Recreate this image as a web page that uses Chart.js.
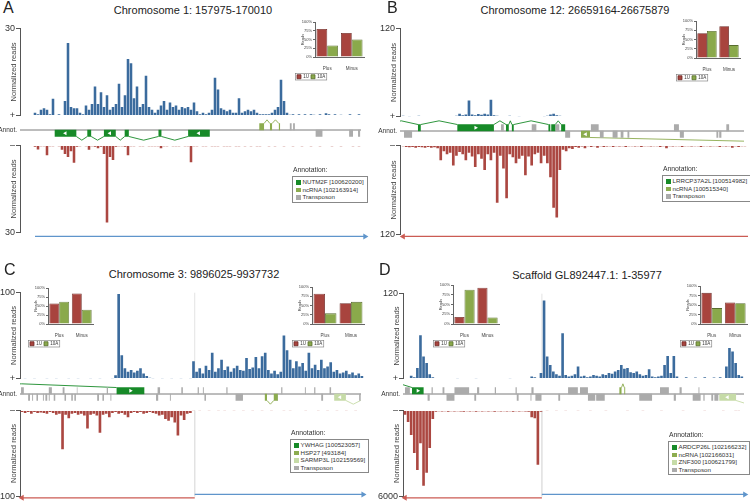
<!DOCTYPE html>
<html>
<head>
<meta charset="utf-8">
<script src="https://cdn.jsdelivr.net/npm/chart.js@4.4.1/dist/chart.umd.min.js"></script>
<style>
  body { margin: 0; background: #fff; }
  #fig { position: relative; width: 750px; height: 503px; overflow: hidden; font-family: 'Liberation Sans', Arial, sans-serif; color: #222; }
  #fig canvas { position: absolute; }
  .txt { position: absolute; white-space: nowrap; line-height: 1; }
  .leg { position: absolute; border: 1px solid #888; padding: 1px 3px; font-size: 6.2px; line-height: 7.6px; background: #fff; white-space: nowrap; color: #333; }
  .sq { display: inline-block; width: 4.5px; height: 4.5px; margin-right: 2px; vertical-align: -0.5px; }
</style>
</head>
<body>
<div id="fig"></div>
<script>
// normalized reads, one value per bin (110 bins across each window)
let plusA = [1, 0.5, 2, 2.5, 2, 0.5, 5.8, 0, 0.5, 0,
    5, 25, 3, 2.5, 2.5, 1, 0.5, 3.5, 2, 4,
    10, 4, 8, 3, 7, 2, 3, 4, 11, 3,
    7, 19.5, 18, 6, 10, 3, 4, 13.7, 3, 2,
    1, 2, 3.5, 5, 2, 4.5, 3, 3.5, 2, 3,
    2.5, 3, 2, 4.5, 1.5, 0.5, 1, 0.5, 1, 2,
    13, 9, 2.5, 2, 1.5, 2, 1, 1, 6, 1,
    1.5, 2, 1.5, 2, 1, 0.5, 0.5, 0.5, 0.5, 1,
    2, 3, 12.3, 5, 1, 0.3, 0.5, 0, 0.5, 0,
    0.5, 0, 0.5, 0.3, 0, 0.5, 0, 0.8, 0.5, 0,
    0.5, 0, 0.3, 0, 0, 0.5, 0, 0, 0.5, 0];
let minusA = [0.5, 1.4, 0.3, 0.3, 3.4, 0.3, 0.3, 0, 0.3, 1.5,
    3, 4, 2, 6, 0.5, 0.3, 0, 0.3, 1.5, 0.3,
    0.5, 1, 0.5, 3, 26.5, 4, 5, 0.5, 0.3, 0.3,
    0.5, 3.4, 0.3, 0.3, 0, 0.3, 0.3, 0, 0.3, 0.3,
    0.3, 0.3, 1, 0.3, 0.3, 0, 0.3, 0.3, 0.3, 0,
    0.3, 0.3, 5.8, 0.3, 0.3, 0, 0.3, 0.3, 0, 0.3,
    0.3, 0.3, 0, 0.3, 0.3, 0.3, 0, 0.3, 0.3, 0,
    0.3, 0, 0.3, 0, 0.3, 0.3, 0, 0, 0.3, 0,
    0.3, 0, 0, 0.3, 0, 0, 0.3, 0, 0, 0.3,
    0, 0, 0.3, 0, 0, 0.3, 0, 0, 0, 0.3,
    0, 0, 0.3, 0, 0, 0, 0.3, 0, 0.3, 0];

let plusB = [1, 0, 0.5, 0, 0, 1, 0, 0, 0, 0,
    0, 0, 0, 0, 0, 0, 0, 1, 4, 2,
    3, 22, 3, 2, 3.5, 2.5, 4, 3, 23, 2,
    1, 0, 0, 0, 1, 0, 0, 0.5, 0, 0,
    0, 0, 0, 0, 0, 0.5, 1, 3, 4, 2,
    1, 0, 0.8, 0, 0, 0.8, 0, 0, 0, 0.8,
    0, 0, 0.8, 0, 0, 0.8, 0, 0.8, 0, 0,
    0.8, 0, 0, 0, 0.8, 0, 0, 0, 0.8, 0,
    0, 0.8, 0, 0, 0, 0.8, 0, 0, 0.8, 0,
    0, 0.8, 0, 0, 0.8, 0, 0, 0.8, 0, 0.8,
    0, 0, 0, 0, 0, 0, 0, 0, 0, 0];
let minusB = [1, 2, 2.5, 2, 3, 2, 2.5, 3, 2, 3,
    2.5, 4, 20, 8, 12, 10, 27, 14, 9, 12,
    20, 10, 15, 29, 12, 18, 33, 12, 20, 10,
    77, 14, 31, 71, 12, 16, 24, 18, 14, 40,
    15, 27, 12, 10, 24, 14, 24, 43, 84, 97,
    33, 6, 8, 4, 5, 2, 3, 1.5, 4, 1,
    2, 1, 3, 1, 2, 1.5, 1, 2, 1, 1.5,
    1, 2, 1, 1, 1.5, 1, 2, 1, 1, 1.5,
    1, 1, 2, 1, 4, 1, 1.5, 1, 1, 2,
    1, 1, 1.5, 1, 1, 2, 1, 1, 1.5, 1,
    1, 2, 1, 1.5, 1, 3, 1, 2, 1, 1];

let plusC = [0, 0.5, 0, 0, 0.5, 0, 0, 0, 0.5, 0,
    0, 0.5, 0, 0, 0, 0.5, 0, 0, 0.5, 0,
    0, 0, 0.5, 0, 0, 0.5, 0, 0, 0, 0.5,
    4, 98, 27, 12, 8, 10, 7, 9, 12, 6,
    3, 1, 0.5, 0, 0, 0.5, 0, 0, 0.5, 0,
    0, 0.5, 0, 0, 0.5, 20, 8, 12, 6, 15,
    10, 30, 8, 12, 22, 10, 14, 8, 12, 15,
    10, 9, 24, 11, 13, 25, 12, 26, 30, 10,
    6, 9, 5, 8, 50, 33, 22, 12, 20, 14,
    18, 9, 30, 12, 16, 10, 22, 12, 14, 19,
    8, 10, 6, 7, 9, 5, 7, 4, 6, 3];
let minusC = [2, 3, 2, 4, 2, 3, 2.5, 3, 4, 2,
    3, 5, 4, 45, 5, 9, 4, 3, 5, 4,
    6, 21, 5, 4, 6, 26, 5, 4, 8, 3,
    2, 4, 3, 5, 8, 3, 2, 3, 2, 4,
    3, 2, 3, 4, 6, 5, 10, 12, 8, 14,
    29, 6, 11, 4, 3, 0.5, 0, 0.5, 0, 0,
    0.5, 0, 0, 0.5, 0, 0.5, 0, 0, 0.5, 0,
    0, 0.5, 0, 0, 0.5, 0, 0, 0.5, 0, 0,
    0.5, 0, 0, 0, 0.5, 0, 0.5, 0, 0, 0,
    0, 0.5, 0, 0, 0, 0.5, 0, 0, 0.5, 0,
    0, 0.5, 0, 0, 0.5, 0, 0, 0.5, 0, 0];

let plusD = [0, 1, 4, 2, 15, 61, 31, 22, 6, 2,
    1, 0, 0, 0, 0, 0, 0, 0.5, 0, 0,
    0, 0, 0, 0.5, 0, 0, 0, 0, 0, 0,
    0, 0, 0, 0, 0.5, 0, 0, 0, 0, 0,
    1, 3, 2, 0, 8, 110, 31, 19, 10, 6,
    4, 64, 5, 3, 4, 6, 17, 3, 4, 2,
    3, 5, 4, 3, 6, 5, 8, 7, 10, 12,
    19, 14, 15, 9, 8, 10, 6, 4, 5, 13,
    3, 2, 3, 4, 19, 32, 8, 32, 3, 1,
    1, 2, 1, 1, 1.5, 1, 1, 2, 1, 1,
    1.5, 1, 2, 1, 17, 43, 38, 22, 5, 3];
let minusD = [300, 800, 1720, 2970, 4140, 2280, 5240, 4340, 2620, 600,
    100, 60, 80, 60, 100, 60, 80, 60, 80, 100,
    60, 80, 60, 100, 60, 80, 60, 80, 60, 100,
    60, 80, 60, 80, 60, 100, 60, 80, 60, 80,
    100, 480, 550, 3790, 100, 0, 30, 0, 0, 30,
    0, 0, 30, 0, 0, 0, 30, 0, 0, 0,
    30, 0, 0, 0, 0, 30, 0, 0, 0, 0,
    0, 0, 30, 0, 0, 0, 0, 30, 0, 0,
    0, 0, 0, 30, 0, 0, 0, 0, 0, 0,
    30, 0, 0, 0, 0, 0, 0, 30, 0, 0,
    0, 0, 0, 30, 0, 0, 0, 30, 30, 0];

// strand boundary (bin) in panels C and D, and the orientation arrows [from, to, direction]
let splitC = 55.4;
let splitD = 44.3;
let strandA = [[0, 110, 1]];
let strandB = [[0, 110, -1]];
let strandC = [[0, splitC, -1], [splitC, 109.4, 1]];
let strandD = [[0, splitD, -1], [splitD, 110, 1]];

// annotation features, [start, end] in bins
let geneA = [[6.7, 14], [17.7, 19], [23.3, 27.3], [30.3, 31.7], [41.7, 42.7], [51.7, 59]];
let geneIntronA = [[14, 17.7], [19, 23.3], [27.3, 30.3], [31.7, 41.7], [42.7, 51.7]];
let geneArrowA = [10.3, 25.3, 55.3];
let ncA = [[75.7, 77.3], [79.3, 80], [82.3, 82.7]];
let ncIntronA = [[77.3, 79.3], [80, 82.3]];
let teUpA = [[86, 86.6], [87.1, 87.7]];
let teDownA = [[94.7, 97], [106, 107.3], [109, 109.7]];

let geneB = [[4.8, 5.7], [17.5, 29.3], [33.2, 34.1], [35.1, 35.7], [46.9, 47.5], [47.8, 49.1], [51, 52.3]];
let geneIntronB = [[-6, 4.8], [5.7, 17.5], [29.3, 33.2], [34.1, 35.1], [35.7, 46.9], [49.1, 51]];
let geneArrowB = [23.4];
let ncB = [[57.4, 60.3]];
let ncIntronB = [[60.3, 160]];
let ncArrowB = [58.9];
let teUpB = [[31.6, 32.5], [41.5, 43], [49.1, 50.4], [60.6, 63.1], [87.4, 89], [104.3, 105.2]];
let teDownB = [[0.3, 2.9], [52.3, 53.9], [63.5, 64.7], [67.6, 69.2], [70.2, 71.1], [72.4, 73], [89.3, 90.6], [101.1, 101.7], [102, 102.7]];

let geneC = [[30.7, 39.7]];
let geneIntronC = [[-31, 30.7]];
let geneArrowC = [35.2];
let hspC = [[78.8, 79.5], [81.7, 83]];
let hspIntronC = [[79.5, 81.7]];
let sarC = [[101.3, 105.1]];
let sarIntronC = [[105.1, 109.9]];
let sarArrowC = [103.2];
let teUpC = [[-0.3, 0.6], [8.7, 9.7], [13.2, 13.8], [17.8, 18], [27.5, 27.9], [44, 44.8], [51.7, 52.2], [57, 57.4], [58.7, 59], [66.3, 66.7], [84.1, 84.5], [91.8, 92.1], [94.8, 95.2], [99.8, 100.3]];
let teDownC = [[2, 2.6], [3.3, 3.6], [4.7, 5.2], [6.8, 7.1], [7.6, 8.2], [8.7, 9], [10.3, 10.8], [13.8, 14.3], [16, 16.5], [17, 17.5], [24.4, 25], [26.1, 26.6], [28.7, 29], [43.5, 44.2], [48, 48.3], [59.2, 59.7], [69.3, 71.7], [82.7, 83], [97.1, 97.7], [109.4, 109.9]];

let geneD = [[2.3, 6.1]];
let geneIntronD = [[-5.5, 2.3]];
let geneArrowD = [4.2];
let ncD = [[70.2, 70.9], [71.8, 72.1]];
let ncIntronD = [[70.9, 71.8]];
let znfD = [[102.9, 108.4]];
let znfIntronD = [[108.4, 116]];
let znfArrowD = [105.6];
let teUpD = [[0, 1.6], [8.7, 9.1], [12.3, 12.9], [16.2, 21], [23.6, 24.3], [29.4, 29.8], [36.2, 36.6], [41.4, 42.1], [53.4, 56.6], [57.3, 59.9], [83.5, 86.4], [89.9, 90.6], [96.1, 96.4]];
let teDownD = [[7.4, 8.1], [13.6, 16.2], [22.7, 23.3], [29.8, 30.1], [36.6, 37.2], [41.1, 41.4], [42.7, 44.7], [50.2, 50.8], [59.9, 62.3], [62.6, 65.4], [76.7, 80.9], [88, 88.7], [94.2, 96.8], [97.7, 98.1], [100.3, 100.9], [101.3, 102.6]];

// inset bar charts: share of reads, [Plus, Minus]
let insetLabels = ['Plus', 'Minus'];
let insetA1U = [80, 69], insetA10A = [33, 50];
let insetB1U = [67, 86], insetB10A = [73, 35];
let insetCL1U = [57, 85], insetCL10A = [62, 40];
let insetCR1U = [82, 56], insetCR10A = [29, 60];
let insetDL1U = [18, 93], insetDL10A = [88, 17];
let insetDR1U = [82, 57], insetDR10A = [42, 55];

let legendA = ['NUTM2F [100620200]', 'ncRNA [102163914]', 'Transposon'];
let legendB = ['LRRCP37A2L [100514982]', 'ncRNA [100515340]', 'Transposon'];
let legendC = ['YWHAG [100523057]', 'HSP27 [493184]', 'SARMP3L [102159569]', 'Transposon'];
let legendD = ['ARDCP26L [102166232]', 'ncRNA [102166031]', 'ZNF300 [100621799]', 'Transposon'];

const BLUE = '#3b6b9d';
const RED = '#ab4741';
const ABLUE = '#5f95cb';
const ARED = '#cb5b53';
const GENE = '#178a28';
const NCRNA = '#8cac4f';
const LIGHT = '#c6dba7';
const TE = '#ababab';
const AXW = 28;

Chart.defaults.font.family = "'Liberation Sans', Arial, sans-serif";
Chart.defaults.color = '#333';

const fig = document.getElementById('fig');

function addCanvas(left, top, w, h) {
    let c = document.createElement('canvas');
    c.width = w;
    c.height = h;
    c.style.left = left + 'px';
    c.style.top = top + 'px';
    c.style.width = w + 'px';
    c.style.height = h + 'px';
    fig.appendChild(c);
    return c;
}

function addText(text, left, top, css) {
    let d = document.createElement('div');
    d.className = 'txt';
    d.textContent = text;
    d.style.cssText = 'left:' + left + 'px;top:' + top + 'px;' + (css || '');
    fig.appendChild(d);
    return d;
}

// coverage track (plus strand above, minus strand below, reversed)
function trackChart(p, values, max, range, strand) {
    const pad = 6;
    let c = addCanvas(p.axisX - AXW, range[0] - pad, p.right - p.axisX + AXW, range[1] - range[0] + 2 * pad);
    let datasets = [{
        type: 'bar',
        data: values.map((v, i) => ({x: i, y: v})),
        backgroundColor: strand > 0 ? BLUE : RED,
        barPercentage: 0.85,
        categoryPercentage: 1,
        order: 1
    }];
    if (p.split !== undefined) {
        datasets.push({
            type: 'line',
            data: [{x: p.split, y: 0}, {x: p.split, y: max}],
            borderColor: '#e3e3e3', borderWidth: 1, pointRadius: 0, order: 2
        });
    }
    new Chart(c, {
        type: 'bar',
        data: {datasets: datasets},
        options: {
            responsive: false, animation: false, devicePixelRatio: 1,
            layout: {padding: {top: pad, bottom: pad, left: 0, right: 0}},
            plugins: {legend: {display: false}, tooltip: {enabled: false}},
            scales: {
                x: {type: 'linear', display: false, offset: false, min: p.xMin, max: p.xMax},
                y: {
                    min: 0, max: max, reverse: strand < 0,
                    afterFit: s => { s.width = AXW; },
                    afterBuildTicks: s => { s.ticks = [{value: 0}, {value: max}]; },
                    ticks: {
                        autoSkip: false, padding: 1, font: {size: 9}, color: '#333',
                        callback: v => v === 0 ? (strand > 0 ? '+' : '–') : v
                    },
                    grid: {drawOnChartArea: false, tickLength: 4, color: '#555'},
                    border: {color: '#555'},
                    title: {display: true, text: 'Normalized reads', font: {size: 7.5}, color: '#444', padding: {top: 17, bottom: 0}}
                }
            }
        }
    });
}

// gene / ncRNA / transposon boxes around the annotation line
function annotChart(p, features) {
    const pad = 6, half = 12;
    let c = addCanvas(p.axisX - AXW, p.annot - half - pad, p.right - p.axisX + AXW, 2 * half + 2 * pad);
    let datasets = [];
    features.forEach(f => {
        let pts = [];
        f.boxes.forEach(b => {
            pts.push({x: b[0], y: f.lane * 3.5}, {x: b[1], y: f.lane * 3.5}, {x: b[1], y: null});
        });
        datasets.push({data: pts, showLine: true, borderColor: f.color, borderWidth: 7, borderCapStyle: 'butt', pointRadius: 0, order: 1});
        if (f.introns) {
            let ipts = [];
            f.introns.forEach(r => {
                ipts.push({x: r[0], y: f.lane * 7}, {x: (r[0] + r[1]) / 2, y: f.lane * 11}, {x: r[1], y: f.lane * 7}, {x: r[1], y: null});
            });
            datasets.push({data: ipts, showLine: true, borderColor: f.color, borderWidth: 0.9, pointRadius: 0, order: 2});
        }
        if (f.arrows) {
            datasets.push({
                data: f.arrows.map(x => ({x: x, y: f.lane * 3.5})), showLine: false,
                pointStyle: 'triangle', pointRadius: 2.3, pointRotation: f.dir * 90,
                pointBackgroundColor: '#fff', pointBorderWidth: 0, order: 0
            });
        }
    });
    datasets.push({data: [{x: p.xMin, y: 0}, {x: p.xMax, y: 0}], showLine: true, borderColor: '#7a7a7a', borderWidth: 1, pointRadius: 0, order: 3});
    new Chart(c, {
        type: 'scatter',
        data: {datasets: datasets},
        options: {
            responsive: false, animation: false, devicePixelRatio: 1,
            layout: {padding: {top: pad, bottom: pad, left: 0, right: 0}},
            plugins: {legend: {display: false}, tooltip: {enabled: false}},
            scales: {
                x: {type: 'linear', display: false, min: p.xMin, max: p.xMax},
                y: {
                    min: -half, max: half,
                    afterFit: s => { s.width = AXW; },
                    afterBuildTicks: s => { s.ticks = [{value: 0}]; },
                    ticks: {callback: () => 'Annot.', font: {size: 6.5}, color: '#333', padding: 3},
                    grid: {display: false, drawTicks: false},
                    border: {display: false}
                }
            }
        }
    });
}

// orientation arrows under the minus track
function arrowChart(p, regions) {
    const pad = 6;
    let c = addCanvas(p.axisX - pad, p.arrowTop, p.right - p.axisX + 2 * pad, 18);
    let datasets = regions.map(r => {
        const dir = r[2];
        const col = dir > 0 ? ABLUE : ARED;
        const y = p.arrowLane[dir];
        return {
            data: [{x: r[0], y: y}, {x: r[1], y: y}], showLine: true,
            borderColor: col, borderWidth: 1.3,
            pointStyle: 'triangle', pointRadius: dir > 0 ? [0, 3.4] : [3.4, 0],
            pointRotation: dir > 0 ? 90 : -90,
            pointBackgroundColor: col, pointBorderWidth: 0, clip: false
        };
    });
    new Chart(c, {
        type: 'scatter',
        data: {datasets: datasets},
        options: {
            responsive: false, animation: false, devicePixelRatio: 1,
            layout: {padding: {top: 0, bottom: 0, left: pad, right: pad}},
            plugins: {legend: {display: false}, tooltip: {enabled: false}},
            scales: {
                x: {type: 'linear', display: false, min: p.xMin, max: p.xMax},
                y: {display: false, min: 0, max: 18, reverse: true}
            }
        }
    });
}

const legendBox = {
    id: 'legendBox',
    afterDraw(chart) {
        let boxes = chart.legend && chart.legend.legendHitBoxes;
        if (!boxes || !boxes.length) return;
        let first = boxes[0], last = boxes[boxes.length - 1];
        let ctx = chart.ctx;
        ctx.save();
        ctx.strokeStyle = '#777';
        ctx.lineWidth = 0.6;
        ctx.strokeRect(first.left - 1.5, first.top - 1, last.left + last.width - first.left + 3, first.height + 2);
        ctx.restore();
    }
};

function insetChart(axisX, right, top, bottom, u, a) {
    let c = addCanvas(axisX - 20, top - 4, right - axisX + 22, bottom - top + 25);
    new Chart(c, {
        type: 'bar',
        data: {
            labels: insetLabels,
            datasets: [
                {label: '1U', data: u, backgroundColor: '#a8443e', borderColor: '#6d2a26', borderWidth: 0.8},
                {label: '10A', data: a, backgroundColor: '#8aa94b', borderColor: '#586d2e', borderWidth: 0.8}
            ]
        },
        options: {
            responsive: false, animation: false, devicePixelRatio: 1,
            layout: {padding: {top: 4, right: 2, left: 0, bottom: 0}},
            datasets: {bar: {categoryPercentage: 0.88, barPercentage: 1}},
            plugins: {
                tooltip: {enabled: false},
                legend: {position: 'bottom', align: 'start', labels: {boxWidth: 4, boxHeight: 4, font: {size: 4.5}, padding: 2, color: '#333'}}
            },
            scales: {
                x: {grid: {display: false}, border: {color: '#666'}, ticks: {font: {size: 4.5}, color: '#444', padding: 1}},
                y: {
                    min: 0, max: 100,
                    afterFit: s => { s.width = 20; },
                    ticks: {stepSize: 25, callback: v => v + '%', font: {size: 4}, color: '#444', padding: 1},
                    grid: {drawOnChartArea: false, tickLength: 2, color: '#666'},
                    border: {color: '#666'},
                    title: {display: true, text: 'Reads', font: {size: 4}, color: '#444', padding: {top: 5, bottom: 0}}
                }
            }
        },
        plugins: [legendBox]
    });
}

function annotLegend(x, y, items, colors) {
    addText('Annotation:', x + 1, y - 9, 'font-size:6.8px;color:#333');
    let box = document.createElement('div');
    box.className = 'leg';
    box.style.left = x + 'px';
    box.style.top = y + 'px';
    items.forEach((t, i) => {
        let row = document.createElement('div');
        let sq = document.createElement('span');
        sq.className = 'sq';
        sq.style.background = colors[i];
        row.appendChild(sq);
        row.appendChild(document.createTextNode(t));
        box.appendChild(row);
    });
    fig.appendChild(box);
}

const panelA = {axisX: 20, right: 365, xMin: -5, xMax: 110, plus: [28, 116], annot: 130, minus: [145, 233], plusMax: 30, minusMax: 30, arrowTop: 228, arrowLane: {'1': 8, '-1': 8}};
const panelB = {axisX: 400, right: 748, xMin: -1, xMax: 110, plus: [28, 117], annot: 131, minus: [145, 235], plusMax: 120, minusMax: 120, arrowTop: 228, arrowLane: {'1': 8, '-1': 8}};
const panelC = {axisX: 20, right: 365, xMin: -0.64, xMax: 110, plus: [292, 379], annot: 394, minus: [410, 497], plusMax: 100, minusMax: 100, arrowTop: 486, arrowLane: {'1': 8, '-1': 14}, split: splitC};
const panelD = {axisX: 403, right: 748, xMin: -0.65, xMax: 111, plus: [293, 379], annot: 394, minus: [410, 497], plusMax: 120, minusMax: 6000, arrowTop: 486, arrowLane: {'1': 8, '-1': 14}, split: splitD};

function buildPanel(p, plus, minus, features, strands) {
    trackChart(p, plus, p.plusMax, p.plus, 1);
    trackChart(p, minus, p.minusMax, p.minus, -1);
    annotChart(p, features);
    arrowChart(p, strands);
}

buildPanel(panelA, plusA, minusA, [
    {boxes: geneA, introns: geneIntronA, arrows: geneArrowA, lane: -1, dir: -1, color: GENE},
    {boxes: ncA, introns: ncIntronA, lane: 1, color: NCRNA},
    {boxes: teUpA, lane: 1, color: TE},
    {boxes: teDownA, lane: -1, color: TE}
], strandA);

buildPanel(panelB, plusB, minusB, [
    {boxes: geneB, introns: geneIntronB, arrows: geneArrowB, lane: 1, dir: 1, color: GENE},
    {boxes: ncB, introns: ncIntronB, arrows: ncArrowB, lane: -1, dir: -1, color: NCRNA},
    {boxes: teUpB, lane: 1, color: TE},
    {boxes: teDownB, lane: -1, color: TE}
], strandB);

buildPanel(panelC, plusC, minusC, [
    {boxes: geneC, introns: geneIntronC, arrows: geneArrowC, lane: 1, dir: 1, color: GENE},
    {boxes: hspC, introns: hspIntronC, lane: -1, color: NCRNA},
    {boxes: sarC, introns: sarIntronC, arrows: sarArrowC, lane: -1, dir: -1, color: LIGHT},
    {boxes: teUpC, lane: 1, color: TE},
    {boxes: teDownC, lane: -1, color: TE}
], strandC);

buildPanel(panelD, plusD, minusD, [
    {boxes: geneD, introns: geneIntronD, arrows: geneArrowD, lane: 1, dir: 1, color: GENE},
    {boxes: ncD, introns: ncIntronD, lane: 1, color: NCRNA},
    {boxes: znfD, introns: znfIntronD, arrows: znfArrowD, lane: -1, dir: -1, color: LIGHT},
    {boxes: teUpD, lane: 1, color: TE},
    {boxes: teDownD, lane: -1, color: TE}
], strandD);

insetChart(315, 364, 22, 68, insetA1U, insetA10A);
insetChart(696, 740, 21, 69, insetB1U, insetB10A);
insetChart(48, 93, 288, 335, insetCL1U, insetCL10A);
insetChart(312, 364, 287, 335, insetCR1U, insetCR10A);
insetChart(453, 499, 285, 335, insetDL1U, insetDL10A);
insetChart(700, 747, 286, 335, insetDR1U, insetDR10A);

annotLegend(292, 176, legendA, [GENE, NCRNA, TE]);
annotLegend(662, 175, legendB, [GENE, NCRNA, TE]);
annotLegend(290, 439, legendC, [GENE, NCRNA, LIGHT, TE]);
annotLegend(668, 441, legendD, [GENE, NCRNA, LIGHT, TE]);

addText('A', 3, 0, 'font-size:16px');
addText('B', 387, 0, 'font-size:16px');
addText('C', 4, 262, 'font-size:16px');
addText('D', 379, 262, 'font-size:16px');

addText('Chromosome 1: 157975-170010', 193, 5, 'font-size:11px;transform:translateX(-50%)');
addText('Chromosome 12: 26659164-26675879', 575, 5, 'font-size:11px;transform:translateX(-50%)');
addText('Chromosome 3: 9896025-9937732', 194, 269, 'font-size:11px;transform:translateX(-50%)');
addText('Scaffold GL892447.1: 1-35977', 587, 270, 'font-size:11px;transform:translateX(-50%)');
</script>
</body>
</html>
